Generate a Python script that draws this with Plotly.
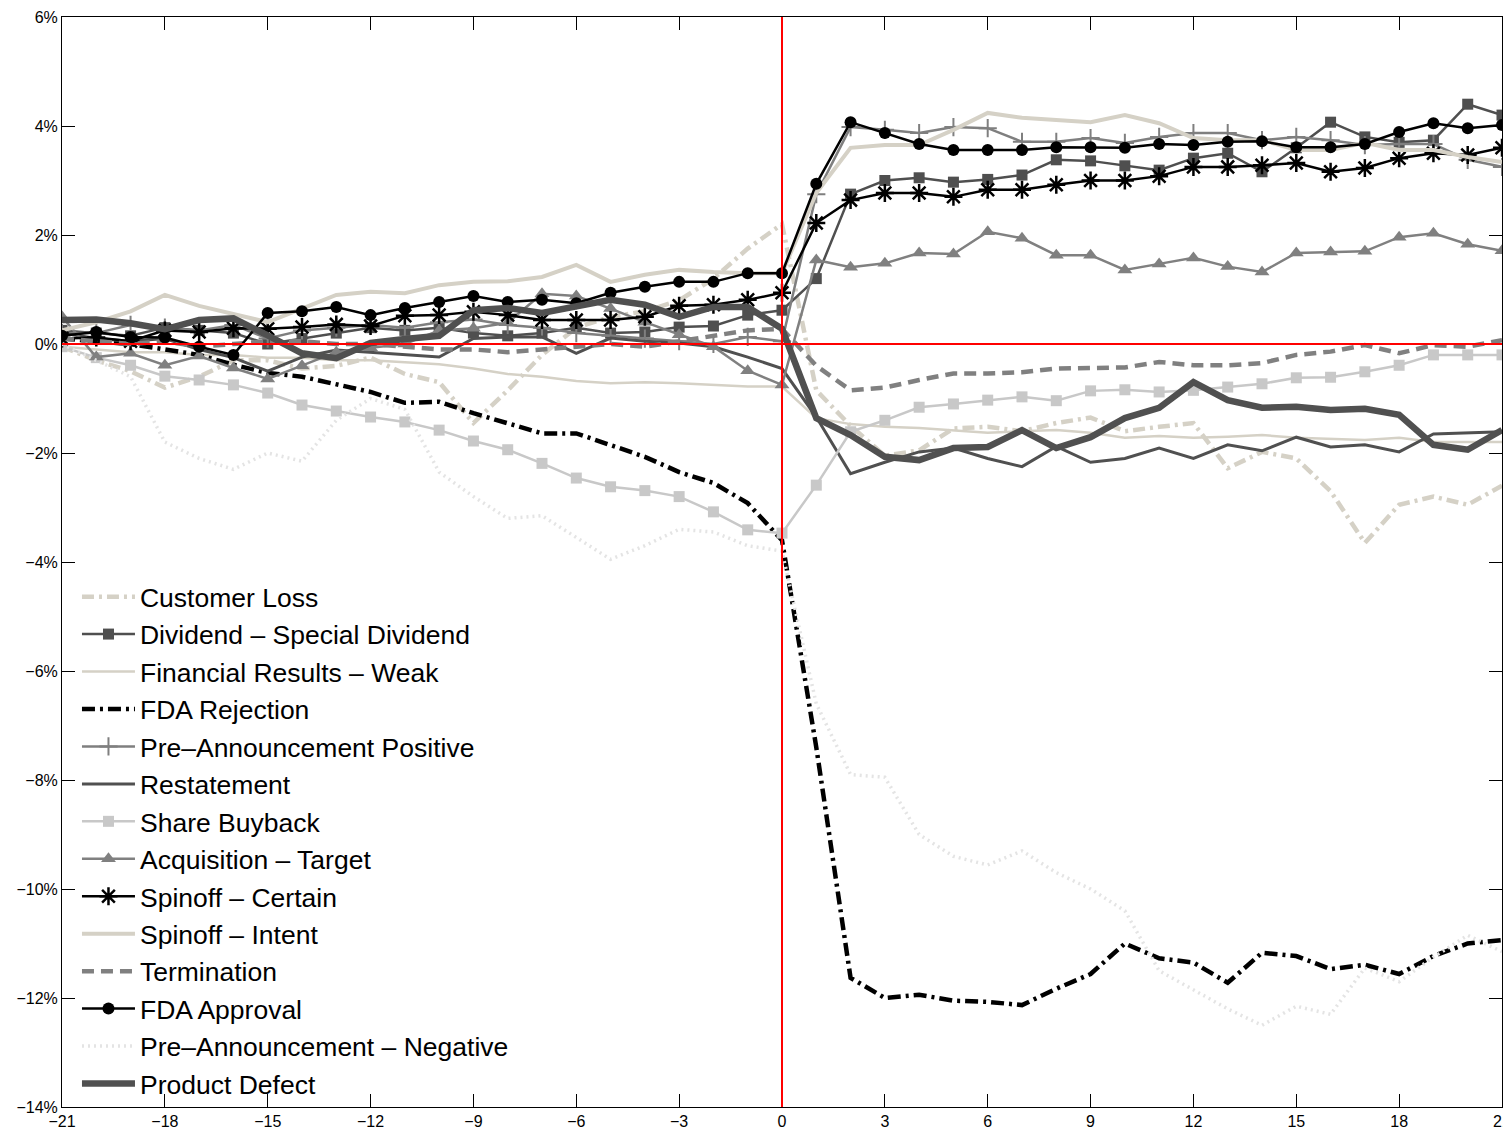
import plotly.graph_objects as go

days = list(range(-21, 22))

customer_loss = [-0.05, -0.3, -0.5, -0.8, -0.6, -0.3, -0.3, -0.45, -0.4, -0.25, -0.55, -0.7, -1.45, -0.85, -0.2, 0.3, 0.5, 0.6, 0.8, 1.2, 1.75, 2.2,
                 -0.85, -1.5, -2.05, -1.95, -1.55, -1.52, -1.6, -1.45, -1.35, -1.6, -1.52, -1.45, -2.28, -1.98, -2.1, -2.7, -3.65, -2.95, -2.8, -2.95, -2.6]
dividend = [0.25, 0.2, 0.15, 0.3, 0.25, 0.2, 0.0, 0.1, 0.2, 0.3, 0.25, 0.3, 0.2, 0.15, 0.2, 0.3, 0.2, 0.22, 0.31, 0.33, 0.53, 0.62,
            1.2, 2.75, 3.0, 3.05, 2.97, 3.02, 3.1, 3.38, 3.36, 3.27, 3.19, 3.41, 3.5, 3.16, 3.6, 4.07, 3.8, 3.7, 3.74, 4.4, 4.2]
fin_weak = [-0.05, -0.1, -0.15, -0.15, -0.2, -0.2, -0.25, -0.25, -0.3, -0.3, -0.33, -0.37, -0.45, -0.55, -0.6, -0.68, -0.72, -0.7, -0.72, -0.75, -0.78, -0.78,
            -1.36, -1.47, -1.52, -1.54, -1.58, -1.63, -1.6, -1.58, -1.63, -1.72, -1.69, -1.72, -1.7, -1.67, -1.72, -1.74, -1.76, -1.72, -1.8, -1.8, -1.8]
fda_rejection = [0.1, 0.05, 0.0, -0.1, -0.2, -0.38, -0.53, -0.6, -0.75, -0.88, -1.08, -1.06, -1.27, -1.45, -1.64, -1.64, -1.85, -2.07, -2.35, -2.55, -2.92, -3.6,
                 -7.4, -11.63, -12.0, -11.94, -12.05, -12.07, -12.13, -11.83, -11.56, -11.0, -11.27, -11.35, -11.72, -11.17, -11.23, -11.47, -11.39, -11.56, -11.23, -11.0, -10.94]
pre_positive = [0.2, 0.2, 0.35, 0.3, 0.25, 0.35, 0.1, 0.25, 0.3, 0.35, 0.3, 0.4, 0.45, 0.35, 0.3, 0.2, 0.15, 0.1, 0.05, 0.0, 0.13, 0.05,
                2.75, 3.98, 3.93, 3.87, 3.98, 3.96, 3.71, 3.71, 3.78, 3.69, 3.8, 3.87, 3.87, 3.74, 3.8, 3.74, 3.65, 3.67, 3.67, 3.38, 3.25]
restatement = [0.2, 0.1, 0.05, 0.1, -0.1, -0.25, -0.5, -0.24, -0.11, -0.15, -0.2, -0.24, 0.1, 0.13, 0.13, -0.17, 0.11, 0.05, 0.02, -0.05, -0.24, -0.45,
               -1.34, -2.38, -2.17, -1.98, -1.91, -2.1, -2.25, -1.88, -2.17, -2.1, -1.91, -2.1, -1.85, -1.96, -1.71, -1.89, -1.85, -1.98, -1.65, -1.63, -1.61]
buyback = [-0.05, -0.25, -0.39, -0.59, -0.66, -0.75, -0.9, -1.12, -1.23, -1.34, -1.43, -1.58, -1.78, -1.94, -2.19, -2.46, -2.62, -2.69, -2.8, -3.08, -3.41, -3.47,
           -2.59, -1.61, -1.4, -1.16, -1.1, -1.03, -0.97, -1.04, -0.86, -0.84, -0.88, -0.85, -0.79, -0.73, -0.62, -0.61, -0.51, -0.39, -0.2, -0.2, -0.2]
acquisition = [0.5, -0.24, -0.17, -0.39, -0.22, -0.44, -0.64, -0.4, -0.15, -0.07, 0.0, 0.25, 0.29, 0.39, 0.92, 0.88, 0.65, 0.4, 0.17, -0.05, -0.49, -0.75,
               1.54, 1.41, 1.48, 1.67, 1.65, 2.06, 1.94, 1.63, 1.63, 1.36, 1.47, 1.58, 1.42, 1.32, 1.67, 1.69, 1.7, 1.96, 2.03, 1.83, 1.71]
spin_certain = [0.1, 0.12, 0.05, 0.25, 0.22, 0.29, 0.28, 0.31, 0.36, 0.33, 0.52, 0.53, 0.59, 0.53, 0.44, 0.44, 0.44, 0.5, 0.7, 0.72, 0.81, 0.94,
                2.22, 2.64, 2.77, 2.77, 2.7, 2.83, 2.83, 2.92, 3.0, 3.0, 3.08, 3.25, 3.25, 3.28, 3.32, 3.16, 3.23, 3.41, 3.5, 3.47, 3.6]
spin_intent = [0.25, 0.4, 0.6, 0.9, 0.7, 0.55, 0.4, 0.65, 0.9, 0.96, 0.93, 1.08, 1.14, 1.15, 1.23, 1.45, 1.14, 1.27, 1.36, 1.32, 1.3, 1.3,
               2.77, 3.6, 3.65, 3.65, 3.93, 4.24, 4.15, 4.11, 4.07, 4.2, 4.05, 3.78, 3.74, 3.74, 3.56, 3.56, 3.69, 3.56, 3.56, 3.43, 3.34]
termination = [0.1, 0.05, 0.0, 0.05, -0.05, 0.0, 0.05, 0.05, 0.0, 0.0, -0.05, -0.1, -0.1, -0.15, -0.1, -0.05, 0.0, -0.05, 0.05, 0.15, 0.25, 0.28,
               -0.4, -0.85, -0.8, -0.66, -0.54, -0.54, -0.52, -0.45, -0.43, -0.43, -0.33, -0.39, -0.39, -0.35, -0.2, -0.14, -0.02, -0.17, -0.02, -0.05, 0.07]
fda_approval = [0.15, 0.22, 0.13, 0.12, -0.05, -0.2, 0.57, 0.6, 0.68, 0.53, 0.66, 0.77, 0.88, 0.77, 0.81, 0.75, 0.94, 1.05, 1.14, 1.14, 1.3, 1.3,
                2.94, 4.07, 3.87, 3.67, 3.56, 3.56, 3.56, 3.61, 3.61, 3.6, 3.67, 3.65, 3.71, 3.72, 3.61, 3.61, 3.67, 3.89, 4.05, 3.96, 4.02]
pre_negative = [0.0, -0.3, -0.6, -1.8, -2.1, -2.3, -2.0, -2.15, -1.4, -1.0, -1.2, -2.35, -2.8, -3.2, -3.15, -3.55, -3.95, -3.7, -3.4, -3.45, -3.7, -3.8,
                -6.6, -7.9, -7.95, -9.0, -9.4, -9.56, -9.3, -9.7, -10.0, -10.4, -11.5, -11.85, -12.2, -12.5, -12.15, -12.3, -11.45, -11.7, -11.25, -10.85, -11.15]
product_defect = [0.44, 0.45, 0.38, 0.27, 0.44, 0.47, 0.16, -0.17, -0.26, 0.02, 0.09, 0.15, 0.62, 0.66, 0.57, 0.68, 0.81, 0.72, 0.5, 0.68, 0.68, 0.28,
                  -1.36, -1.67, -2.07, -2.13, -1.91, -1.89, -1.58, -1.91, -1.71, -1.36, -1.17, -0.7, -1.03, -1.17, -1.15, -1.21, -1.19, -1.3, -1.85, -1.94, -1.58]

x_tickvals = [-21, -18, -15, -12, -9, -6, -3, 0, 3, 6, 9, 12, 15, 18, 21]
x_ticktext = ["\u221221", "\u221218", "\u221215", "\u221212", "\u22129", "\u22126", "\u22123", "0", "3", "6", "9", "12", "15", "18", "21"]
y_tickvals = [6, 4, 2, 0, -2, -4, -6, -8, -10, -12, -14]
y_ticktext = ["6%", "4%", "2%", "0%", "\u22122%", "\u22124%", "\u22126%", "\u22128%", "\u221210%", "\u221212%", "\u221214%"]

BEIGE = "#d5d1c6"
series = [
    ("Customer Loss", customer_loss, dict(color=BEIGE, width=4.5, dash="12px,5px,3px,5px"), None),
    ("Dividend \u2013 Special Dividend", dividend, dict(color="#4f4f4f", width=2.5), dict(symbol="square", size=11, color="#4f4f4f")),
    ("Financial Results \u2013 Weak", fin_weak, dict(color=BEIGE, width=2.5), None),
    ("FDA Rejection", fda_rejection, dict(color="black", width=4.5, dash="13px,5px,3px,5px"), None),
    ("Pre\u2013Announcement Positive", pre_positive, dict(color="#7f7f7f", width=2.5), dict(symbol="cross-thin-open", size=13, color="#7f7f7f", line=dict(width=2, color="#7f7f7f"))),
    ("Restatement", restatement, dict(color="#505050", width=3), None),
    ("Share Buyback", buyback, dict(color="#c8c8c8", width=2.5), dict(symbol="square", size=11, color="#c8c8c8")),
    ("Acquisition \u2013 Target", acquisition, dict(color="#808080", width=2.5), dict(symbol="triangle-up", size=13, color="#808080")),
    ("Spinoff \u2013 Certain", spin_certain, dict(color="black", width=2.5), dict(symbol="asterisk-open", size=15, color="black", line=dict(width=2.5, color="black"))),
    ("Spinoff \u2013 Intent", spin_intent, dict(color=BEIGE, width=4), None),
    ("Termination", termination, dict(color="#808080", width=4.5, dash="12px,7px"), None),
    ("FDA Approval", fda_approval, dict(color="black", width=2.5), dict(symbol="circle", size=12, color="black")),
    ("Pre\u2013Announcement \u2013 Negative", pre_negative, dict(color="#e4e4e4", width=3.5, dash="2px,4px"), None),
    ("Product Defect", product_defect, dict(color="#505050", width=6.5), None),
]

fig = go.Figure()
for name, vals, line, marker in series:
    if marker is None:
        fig.add_trace(go.Scatter(x=days, y=vals, name=name, mode="lines", line=line))
    else:
        fig.add_trace(go.Scatter(x=days, y=vals, name=name, mode="lines+markers", line=line, marker=marker))

fig.add_shape(type="line", x0=0, x1=0, y0=-14, y1=6, xref="x", yref="y",
              line=dict(color="#ff0000", width=2), layer="above")
fig.add_shape(type="line", x0=-21, x1=21, y0=0, y1=0, xref="x", yref="y",
              line=dict(color="#ff0000", width=2), layer="above")

axis_common = dict(showgrid=False, zeroline=False, showline=True, linecolor="black", linewidth=1,
                   mirror="ticks", ticks="inside", ticklen=13, tickcolor="black", tickwidth=1,
                   automargin=False,
                   tickfont=dict(family="Liberation Sans, Arial, sans-serif", size=16, color="black"))

# page body has an 8px margin, so the figure is sized/positioned to compensate
fig.update_layout(
    width=1503, height=1124,
    paper_bgcolor="white", plot_bgcolor="white",
    margin=dict(l=54, r=9, t=9, b=25, autoexpand=False),
    xaxis=dict(range=[-21, 21], tickvals=x_tickvals, ticktext=x_ticktext, **axis_common),
    yaxis=dict(range=[-14, 6], tickvals=y_tickvals, ticktext=y_ticktext, **axis_common),
    showlegend=True,
    legend=dict(x=0.0104, y=0.49, xanchor="left", yanchor="top", bgcolor="rgba(0,0,0,0)",
                font=dict(family="Liberation Sans, Arial, sans-serif", size=26.5, color="black"),
                itemwidth=53, tracegroupgap=0),
)

fig.write_html("out.html")
